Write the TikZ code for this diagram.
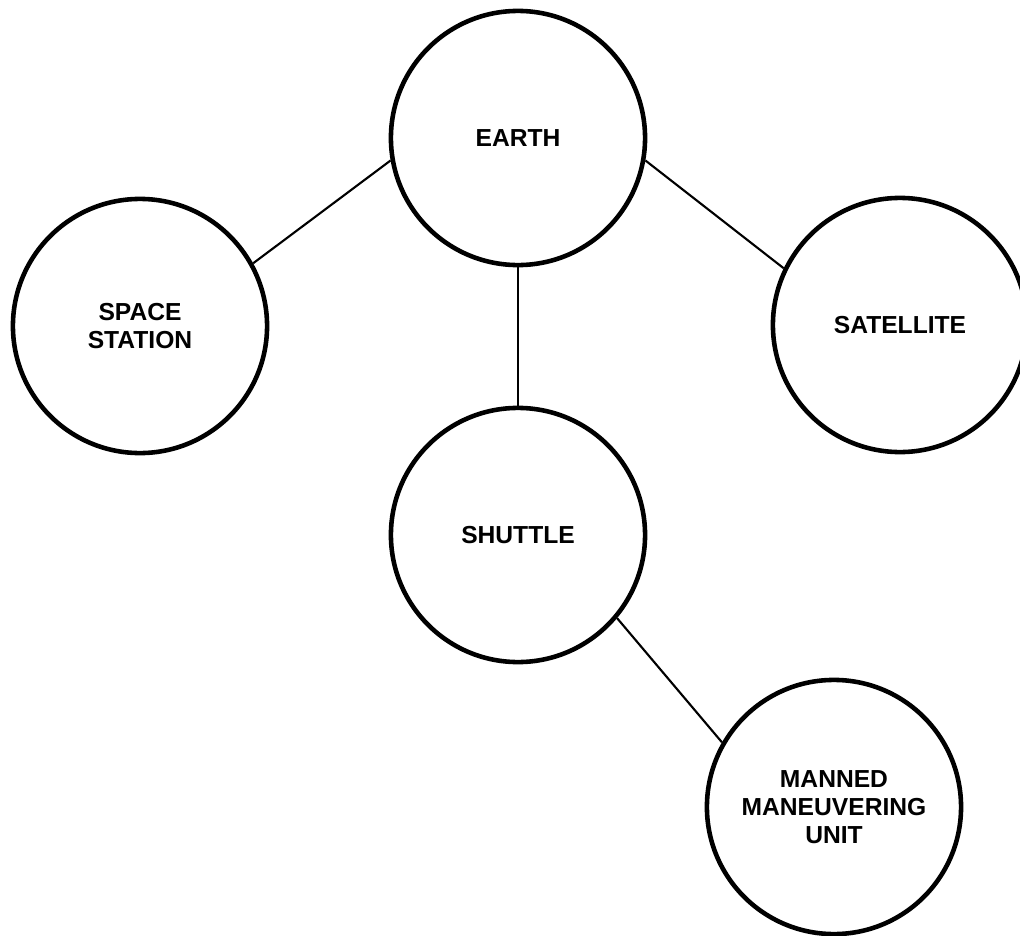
\documentclass[tikz,border=0pt]{standalone}
\usepackage{fontspec}
\setmainfont{Liberation Sans}

\begin{document}
\begin{tikzpicture}
    [x=0.01cm, y=-0.01cm, line width=0.6pt,
    every node/.style={circle,draw,line width=1.3pt,minimum size=2.54cm,
        inner sep=0pt,align=center,font=\bfseries\fontsize{7}{8}\selectfont}]

    \useasboundingbox (0,0) rectangle (1020,936);

    \node (E) at (518,138) {EARTH};
    \node (P) at (140,326) {SPACE\\STATION};
    \node (S) at (900,325) {SATELLITE};
    \node (T) at (518,535) {SHUTTLE};
    \node (M) at (834,807) {MANNED\\MANEUVERING\\UNIT};

    \draw (E.190) -- (P.29);
    \draw (E.-10) -- (S.154);
    \draw (E.south) -- (T.north);
    \draw (T.-40) -- (M.150);

\end{tikzpicture}
\end{document}
